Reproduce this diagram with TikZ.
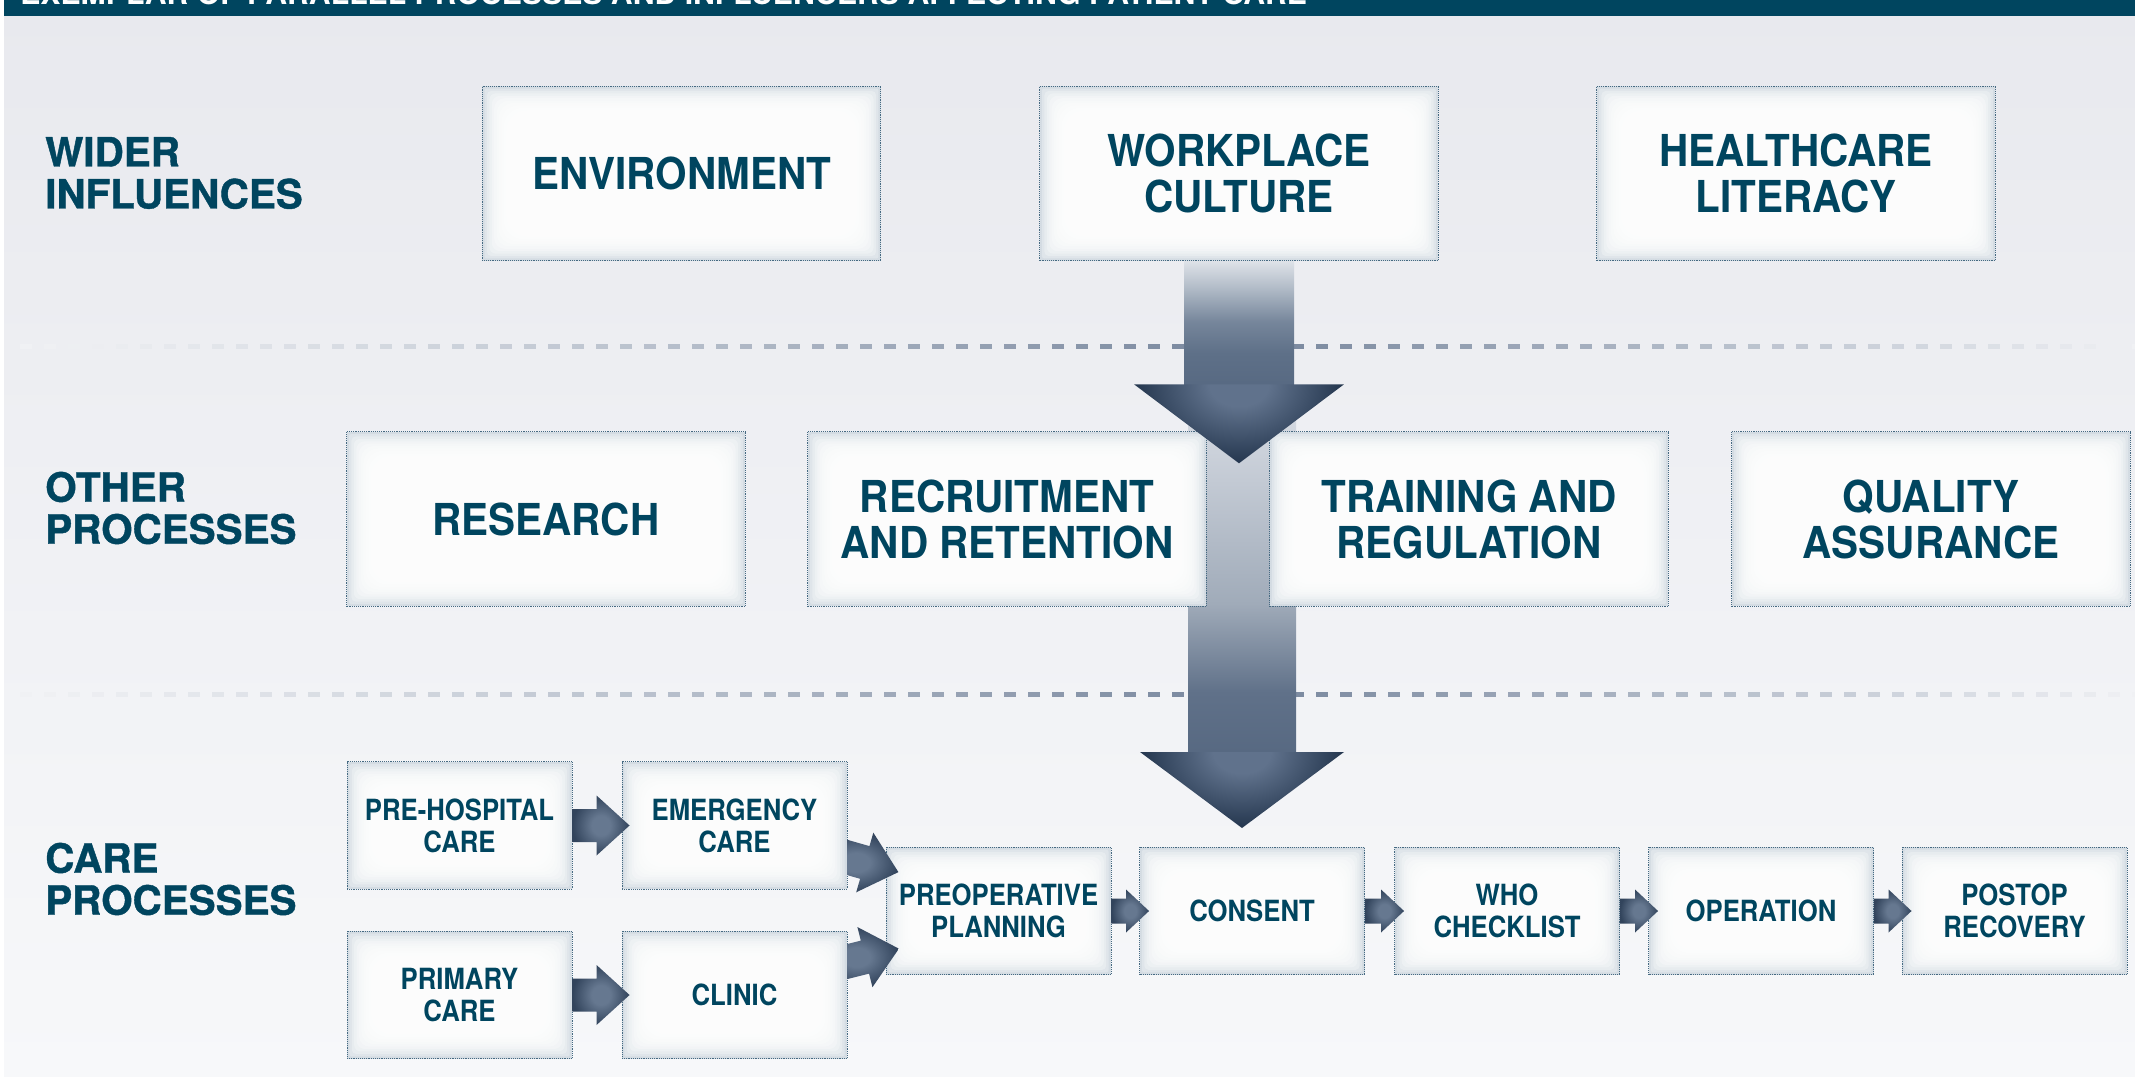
\documentclass[tikz,border=0pt]{standalone}
\usepackage{fontspec}
\usepackage{graphicx}
\setmainfont{TeX Gyre Heros}
\setsansfont{TeX Gyre Heros}
\newfontfamily\bigfont{TeX Gyre Heros}[FakeStretch=0.92]
\newfontfamily\smfont{TeX Gyre Heros}[FakeStretch=0.88]
\newfontfamily\lblfont{TeX Gyre Heros}[BoldFeatures={FakeBold=1}]
\usetikzlibrary{calc}
\definecolor{navy}{RGB}{0,69,95}
\definecolor{bgtop}{RGB}{232,233,238}
\definecolor{bgbot}{RGB}{247,248,250}
\definecolor{bgmid}{RGB}{241,242,245}
\definecolor{dashdark}{RGB}{118,133,156}
\definecolor{boxedge}{RGB}{212,220,227}
\definecolor{boxborder}{RGB}{70,106,130}
\definecolor{hin}{RGB}{96,114,140}
\definecolor{hout}{RGB}{36,54,78}
\definecolor{sin}{RGB}{102,120,144}
\definecolor{sout}{RGB}{50,68,92}
\definecolor{a0}{RGB}{222,226,232}
\definecolor{a1}{RGB}{178,188,200}
\definecolor{a2}{RGB}{118,134,155}
\definecolor{a3}{RGB}{94,112,136}
\definecolor{a4}{RGB}{86,104,129}
\definecolor{b0}{RGB}{212,217,225}
\definecolor{b1}{RGB}{160,171,185}
\definecolor{b2}{RGB}{96,113,137}
\definecolor{b3}{RGB}{86,104,129}
\pgfdeclareradialshading{headglow}{\pgfpoint{0bp}{0bp}}{color(0bp)=(hin); color(7bp)=(hin); color(25bp)=(hout); color(50bp)=(hout)}
\pgfdeclareradialshading{smallglow}{\pgfpoint{0bp}{0bp}}{color(0bp)=(sin); color(8bp)=(sin); color(25bp)=(sout); color(50bp)=(sout)}
\pgfdeclareverticalshading{shaftA}{100bp}{color(0bp)=(a4); color(25bp)=(a4); color(40bp)=(a3); color(52bp)=(a2); color(65bp)=(a1); color(75bp)=(a0); color(100bp)=(a0)}
\pgfdeclareverticalshading{shaftB}{100bp}{color(0bp)=(b3); color(25bp)=(b3); color(35bp)=(b2); color(48bp)=(b1); color(75bp)=(b0); color(100bp)=(b0)}
\pgfdeclarelayer{back}
\pgfdeclarelayer{under}
\pgfdeclarelayer{front}
\pgfsetlayers{back,under,main,front}
\tikzset{
 box/.style={draw=boxborder, line width=0.7pt, dash pattern=on 0.7pt off 0.7pt, fill=boxedge, text=navy, align=center, inner sep=0pt,
   path picture={\foreach \i in {1,...,10}{\fill[white,opacity=0.28,rounded corners=\i*1.6pt] ([shift={(\i*1.8pt,\i*1.8pt)}]path picture bounding box.south west) rectangle ([shift={(-\i*1.8pt,-\i*1.8pt)}]path picture bounding box.north east);}}},
 bigbox/.style={box, minimum width=299pt, minimum height=131pt, font=\bigfont\bfseries\fontsize{33}{34.5}\selectfont},
 smbox/.style={box, minimum width=168.75pt, minimum height=95.5pt, font=\smfont\bfseries\fontsize{21.9}{24}\selectfont},
 lbl/.style={anchor=west, align=left, inner sep=0pt, text=navy, font=\lblfont\bfseries\fontsize{30.3}{31.5}\selectfont},
}
\newcommand{\harrow}[6]{\shade[shading=smallglow] ($(#1.east)+(0,-#3)$) -- ($(#2.west)+(#6-#5,-#3)$) -- ($(#2.west)+(#6-#5,-#4)$) -- ($(#2.west)+(#6,0)$) -- ($(#2.west)+(#6-#5,#4)$) -- ($(#2.west)+(#6-#5,#3)$) -- ($(#1.east)+(0,#3)$) -- cycle;}
\begin{document}
\begin{tikzpicture}[x=0.75pt,y=-0.75pt]
\useasboundingbox (0,0) rectangle (2135,1077);
\begin{pgfonlayer}{back}
 \shade[top color=bgtop, bottom color=bgbot] (0,0) rectangle (2135,1077);
 \fill[white] (0,0) rectangle (4,1077);
 \foreach \yy in {346,694}{
  \foreach \xx in {20,44,...,2132}{
    \pgfmathsetmacro\f{\xx<1240 ? 100*(\xx/1240)^1.2 : 100*max(0,1-(\xx-1240)/900)}
    \fill[dashdark!\f!bgmid] (\xx,\yy-2.5) rectangle ++(12,5);
  }
 }
 \fill[navy] (4,0) rectangle (2135,16);
\end{pgfonlayer}
\node[anchor=base west, inner sep=0pt, text=white] (title) at (20,5) {\resizebox{965pt}{!}{\bfseries EXEMPLAR OF PARALLEL PROCESSES AND INFLUENCERS AFFECTING PATIENT CARE}};
% row labels
\node[lbl] (wl) at (45,173) {WIDER\\INFLUENCES};
\node[lbl] (ol) at (45,508) {OTHER\\PROCESSES};
\node[lbl] (cl) at (45,879) {CARE\\PROCESSES};
% top row
\node[bigbox] (env) at (681.5,173.5) {ENVIRONMENT};
\node[bigbox] (work) at (1239,173.5) {WORKPLACE\\CULTURE};
\node[bigbox] (health) at (1796,173.5) {HEALTHCARE\\LITERACY};
% middle row
\node[bigbox] (res) at (546,519) {RESEARCH};
\node[bigbox] (recr) at (1007,519) {RECRUITMENT\\AND RETENTION};
\node[bigbox] (train) at (1469,519) {TRAINING AND\\REGULATION};
\node[bigbox] (qual) at (1931,519) {QUALITY\\ASSURANCE};
% care processes
\node[smbox] (pre) at (459.5,825.5) {PRE-HOSPITAL\\CARE};
\node[smbox] (emerg) at (734.5,825.5) {EMERGENCY\\CARE};
\node[smbox] (prim) at (459.5,995) {PRIMARY\\CARE};
\node[smbox] (clinic) at (734.5,995) {CLINIC};
\node[smbox] (preop) at (998.5,911) {PREOPERATIVE\\PLANNING};
\node[smbox] (consent) at (1252,911) {CONSENT};
\node[smbox] (who) at (1507,911) {WHO\\CHECKLIST};
\node[smbox] (oper) at (1761,911) {OPERATION};
\node[smbox] (postop) at (2014.5,911) {POSTOP\\RECOVERY};
% big arrow 2 shaft (behind middle row)
\coordinate (gap) at ($(recr.east)!0.5!(train.west)+(4,0)$);
\begin{pgfonlayer}{under}
 \shade[shading=shaftB] ($(gap)+(-54,-99)$) rectangle ($(gap)+(54,241)$);
\end{pgfonlayer}
\begin{pgfonlayer}{front}
 % big arrow 1
 \shade[shading=shaftA] ($(work.south)+(-55,0)$) rectangle ($(work.south)+(55,131)$);
 \shade[shading=headglow] ($(work.south)+(0,44)$) ($(work.south)+(-105,123)$) -- ($(work.south)+(105,123)$) -- ($(work.south)+(0,202)$) -- cycle;
 % big arrow 2 head
 \shade[shading=headglow] ($(gap)+(0,157)$) ($(gap)+(-102,233)$) -- ($(gap)+(102,233)$) -- ($(gap)+(0,309)$) -- cycle;
 % small arrows
 \harrow{pre}{emerg}{16.5}{30}{33}{8}
 \harrow{prim}{clinic}{16.5}{30}{33}{8}
 \harrow{preop}{consent}{12.5}{21.5}{23}{10}
 \harrow{consent}{who}{12.5}{21.5}{23}{10}
 \harrow{who}{oper}{12.5}{21.5}{23}{10}
 \harrow{oper}{postop}{12.5}{21.5}{23}{10}
 \begin{scope}
  \clip (emerg.north east) rectangle (1000,1077);
  \begin{scope}[shift={($(emerg.east)+(0,32)$)}, rotate=-16]
   \shade[shading=smallglow] (-30,-17) -- (18,-17) -- (18,-31) -- (53,0) -- (18,31) -- (18,17) -- (-30,17) -- cycle;
  \end{scope}
  \begin{scope}[shift={($(clinic.east)+(0,-33.5)$)}, rotate=14]
   \shade[shading=smallglow] (-30,-17) -- (18,-17) -- (18,-31) -- (53,0) -- (18,31) -- (18,17) -- (-30,17) -- cycle;
  \end{scope}
 \end{scope}
\end{pgfonlayer}
\end{tikzpicture}
\end{document}
